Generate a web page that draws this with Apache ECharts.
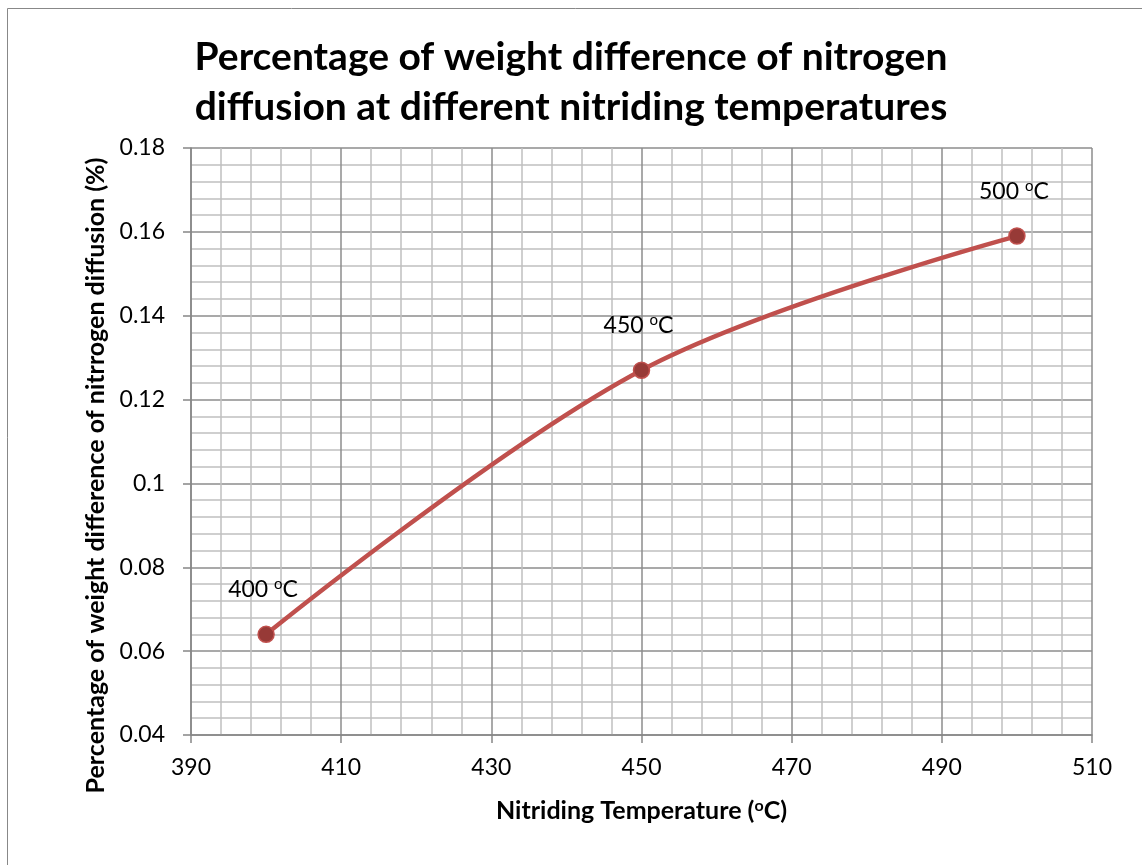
<!DOCTYPE html>
<html>
<head>
<meta charset="utf-8">
<script src="https://cdn.jsdelivr.net/npm/echarts@6/dist/echarts.min.js"></script>
<style>html,body{margin:0;padding:0;background:#fff;}#c{width:1142px;height:865px;}</style>
</head>
<body>
<div id="c"></div>
<script>
var temperatures = [400, 450, 500];
var weightDiff = [0.064, 0.127, 0.159];
var pointLabels = ['400', '450', '500'];
var xTicks = { min: 390, max: 510, interval: 20 };
var yTicks = { min: 0.04, max: 0.18, interval: 0.02 };

var chart = echarts.init(document.getElementById('c'));
var FONT = 'Lato';
var seriesData = temperatures.map(function (t, i) {
  return { value: [t, weightDiff[i]], name: pointLabels[i] };
});
chart.setOption({
  backgroundColor: '#ffffff',
  animation: false,
  title: {
    text: 'Percentage of weight difference of nitrogen\ndiffusion at different nitriding temperatures',
    left: 'center',
    top: 27,
    textStyle: { fontFamily: FONT, fontSize: 39, fontWeight: 'bold', color: '#000', lineHeight: 50 }
  },
  graphic: [{
    type: 'rect', silent: true, z: -1,
    shape: { x: 7.5, y: 8.5, width: 1160, height: 880 },
    style: { fill: 'none', stroke: '#888888', lineWidth: 1 }
  }],
  grid: { left: 191, top: 148, right: 50, bottom: 130 },
  xAxis: {
    type: 'value',
    min: xTicks.min, max: xTicks.max, interval: xTicks.interval,
    name: 'Nitriding Temperature ({s|o}C)',
    nameLocation: 'middle', nameGap: 63,
    nameTextStyle: {
      fontFamily: FONT, fontSize: 25, fontWeight: 'bold', color: '#000',
      rich: { s: { fontFamily: FONT, fontSize: 16, fontWeight: 'bold', color: '#000', verticalAlign: 'top', lineHeight: 18, padding: [0, 0, 9, 0] } }
    },
    axisLine: { show: true, lineStyle: { color: '#868686', width: 1.5 } },
    axisTick: { show: true, length: 8, lineStyle: { color: '#868686', width: 1.5 } },
    axisLabel: { fontFamily: FONT, fontSize: 23, color: '#000', margin: 21 },
    splitLine: { show: true, lineStyle: { color: '#8c8c8c', width: 1.5 } },
    minorTick: { show: true, splitNumber: 5, length: 0 },
    minorSplitLine: { show: true, lineStyle: { color: '#c0c0c0', width: 1.5 } }
  },
  yAxis: {
    type: 'value',
    min: yTicks.min, max: yTicks.max, interval: yTicks.interval,
    name: 'Percentage of weight difference of nitrrogen diffusion (%)',
    nameLocation: 'middle', nameGap: 82, nameRotate: 90,
    nameTextStyle: { fontFamily: FONT, fontSize: 25, fontWeight: 'bold', color: '#000', padding: [0, 68, 0, 0] },
    axisLine: { show: true, lineStyle: { color: '#868686', width: 1.5 } },
    axisTick: { show: true, length: 8, lineStyle: { color: '#868686', width: 1.5 } },
    axisLabel: { fontFamily: FONT, fontSize: 23, color: '#000', margin: 26 },
    splitLine: { show: true, lineStyle: { color: '#8c8c8c', width: 1.5 } },
    minorTick: { show: true, splitNumber: 5, length: 0 },
    minorSplitLine: { show: true, lineStyle: { color: '#c0c0c0', width: 1.5 } }
  },
  series: [{
    type: 'line',
    data: seriesData,
    smooth: 0.35,
    symbol: 'circle',
    symbolSize: 16,
    lineStyle: { color: '#C0504D', width: 4.5 },
    itemStyle: { color: '#973a37', borderColor: '#C0504D', borderWidth: 1.5 },
    label: {
      show: true,
      position: 'top',
      distance: 23,
      offset: [-3, 0],
      formatter: function (p) { return '{a|' + p.name + ' }{s|o}{a|C}'; },
      rich: {
        a: { fontFamily: FONT, fontSize: 23, color: '#000', lineHeight: 26 },
        s: { fontFamily: FONT, fontSize: 15, color: '#000', lineHeight: 26, verticalAlign: 'top', padding: [0, 0, 11, 0] }
      }
    }
  }]
});
</script>
</body>
</html>
